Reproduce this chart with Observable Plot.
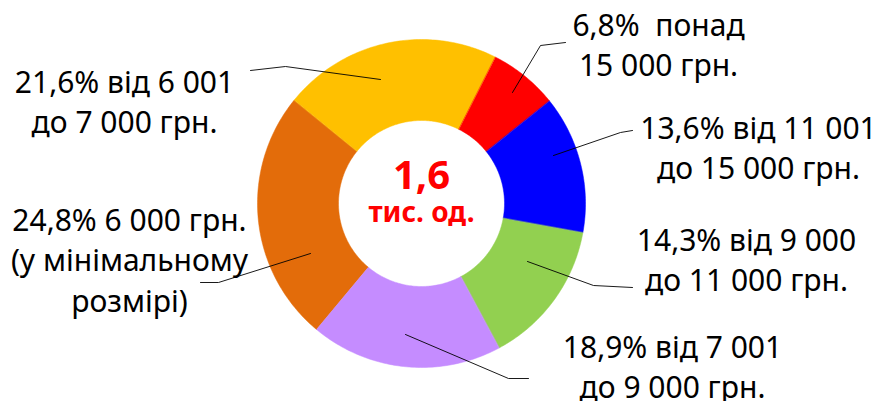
<!DOCTYPE html>
<html>
<head>
<meta charset="utf-8">
<script src="https://cdn.jsdelivr.net/npm/d3@7"></script>
<script src="https://cdn.jsdelivr.net/npm/@observablehq/plot@0.6"></script>
<style>
  html, body { margin: 0; padding: 0; background: #fff; }
  svg text { white-space: pre; }
</style>
</head>
<body>
<div id="chart"></div>
<script>
// ---- data (clockwise order of the doughnut) ----
const categories = [
  "6 000 грн. (у мінімальному розмірі)",
  "від 6 001 до 7 000 грн.",
  "понад 15 000 грн.",
  "від 11 001 до 15 000 грн.",
  "від 9 000 до 11 000 грн.",
  "від 7 001 до 9 000 грн."
];
const shares = [24.8, 21.6, 6.8, 13.6, 14.3, 18.9];
const labelLines = [
  ["24,8% 6 000 грн.", "(у мінімальному", "розмірі)"],
  ["21,6% від 6 001", "до 7 000 грн."],
  ["6,8%  понад", "15 000 грн."],
  ["13,6% від 11 001", "до 15 000 грн."],
  ["14,3% від 9 000", "до 11 000 грн."],
  ["18,9% від 7 001", "до 9 000 грн."]
];
const totalValue = "1,6";
const totalUnit = "тис. од.";

// ---- styles / layout ----
const colors = ["#E36C0A", "#FFC000", "#FF0000", "#0000FF", "#92D050", "#C58CFF"];
const W = 881, H = 401;
const cx = 421, cy = 203, R = 164, r0 = 83, startDeg = -140.2;
const labelPos = [[129, 230], [124, 92], [658, 35], [758, 138], [746, 250], [672, 357]]; // first-line baseline
const lineGap = 40.5;
const leaderLayout = [
  [[310, 253], [218, 282], [200, 282]],
  [[380, 79], [285, 66], [250, 70]],
  [[512, 92], [540, 45], [565, 42]],
  [[553, 155], [620, 132], [632, 130]],
  [[527, 261], [593, 285], [632, 287]],
  [[405, 334], [508, 378], [528, 378]]
];
const font = "'Noto Sans', sans-serif";

// ---- build arc polygons from shares ----
const total = d3.sum(shares);
const pts = [];
let acc = startDeg;
shares.forEach((s, i) => {
  const a0 = acc, a1 = acc + s / total * 360;
  acc = a1;
  const n = Math.max(4, Math.ceil((a1 - a0) / 1));
  const ring = [];
  for (let k = 0; k <= n; k++) {
    const a = (a0 + (a1 - a0) * k / n) * Math.PI / 180;
    ring.push({x: cx + R * Math.sin(a), y: cy - R * Math.cos(a)});
  }
  for (let k = n; k >= 0; k--) {
    const a = (a0 + (a1 - a0) * k / n) * Math.PI / 180;
    ring.push({x: cx + r0 * Math.sin(a), y: cy - r0 * Math.cos(a)});
  }
  ring.forEach(p => pts.push({...p, slice: categories[i], color: colors[i]}));
});

const labels = [];
labelLines.forEach((lines, i) => {
  lines.forEach((t, j) => labels.push({x: labelPos[i][0], y: labelPos[i][1] + j * lineGap, text: t}));
});
const leaders = [];
leaderLayout.forEach((seg, i) => seg.forEach(([x, y]) => leaders.push({x, y, id: categories[i]})));

const chart = Plot.plot({
  width: W, height: H, margin: 0,
  style: {background: "#fff", overflow: "visible"},
  x: {domain: [0, W], range: [0, W], axis: null},
  y: {domain: [0, H], range: [0, H], axis: null},
  color: {type: "identity"},
  marks: [
    Plot.line(pts, {x: "x", y: "y", z: "slice", fill: "color", stroke: "color", strokeWidth: 0.5, curve: "linear-closed"}),
    Plot.line(leaders, {x: "x", y: "y", z: "id", stroke: "#000", strokeWidth: 0.9}),
    Plot.text(labels, {x: "x", y: "y", text: "text", textAnchor: "middle", lineAnchor: "bottom",
      fontSize: 30, fontFamily: font, fill: "#000"}),
    Plot.text([totalValue], {x: [cx], y: [188], text: d => d, textAnchor: "middle", lineAnchor: "bottom",
      fontSize: 40, fontWeight: "bold", fontFamily: font, fill: "#FF0000"}),
    Plot.text([totalUnit], {x: [cx], y: [221], text: d => d, textAnchor: "middle", lineAnchor: "bottom",
      fontSize: 28, fontWeight: "bold", fontFamily: font, fill: "#FF0000"})
  ]
});
document.getElementById("chart").appendChild(chart);
</script>
</body>
</html>
